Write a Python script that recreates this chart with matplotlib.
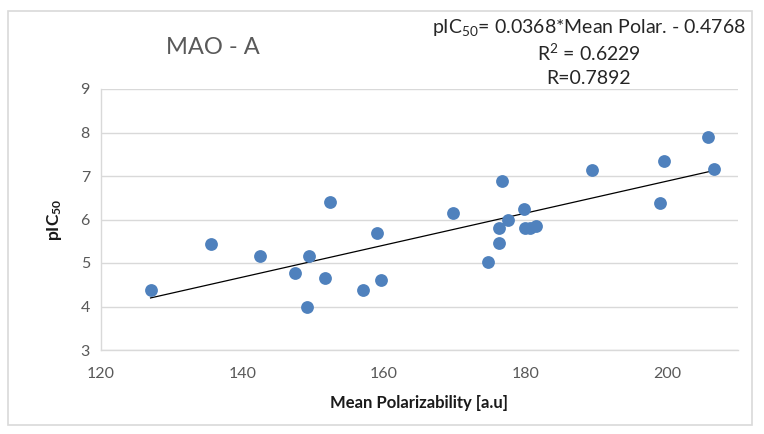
import matplotlib
matplotlib.use("Agg")
import matplotlib.pyplot as plt
import numpy as np
from matplotlib.patches import Rectangle

polarizability = [127.0, 135.5, 142.5, 147.4, 149.4, 149.1, 151.6, 152.3, 157.0, 159.0, 159.6,
                  169.8, 176.6, 174.7, 176.2, 176.2, 177.5, 179.7, 179.9, 180.6, 181.5,
                  189.4, 199.0, 199.6, 205.8, 206.6]
pic50 = [4.38, 5.43, 5.17, 4.78, 5.17, 3.98, 4.66, 6.40, 4.38, 5.70, 4.61,
         6.14, 6.89, 5.03, 5.45, 5.80, 5.99, 6.25, 5.80, 5.80, 5.85,
         7.13, 6.38, 7.34, 7.90, 7.15]
slope = 0.0368
intercept = -0.4768
x_ticks = [120, 140, 160, 180, 200]
y_ticks = [3, 4, 5, 6, 7, 8, 9]

plt.rcParams['font.family'] = ['Lato', 'DejaVu Sans']
plt.rcParams['mathtext.fontset'] = 'custom'
plt.rcParams['mathtext.rm'] = 'Lato'
plt.rcParams['mathtext.bf'] = 'Lato:bold'
plt.rcParams['mathtext.it'] = 'Lato:italic'

W, H = 764, 434
fig = plt.figure(figsize=(W / 100, H / 100), dpi=100)
fig.patch.set_facecolor('white')

# outer chart border
fig.add_artist(Rectangle((8 / W, 1 - 425 / H), (752 - 8) / W, (425 - 11) / H,
                         transform=fig.transFigure, fill=False, edgecolor='#d9d9d9', lw=1.2))

left, right, top, bottom = 101, 738, 89, 350
ax = fig.add_axes([left / W, 1 - bottom / H, (right - left) / W, (bottom - top) / H])

ax.scatter(polarizability, pic50, s=85, color='#4F81BD', zorder=3, linewidths=0)
xl = np.array([min(polarizability), max(polarizability)])
ax.plot(xl, slope * xl + intercept, color='black', lw=0.9, zorder=2)

ax.set_xlim(120, 210)
ax.set_ylim(3, 9)
ax.set_xticks(x_ticks)
ax.set_yticks(y_ticks)
ax.tick_params(length=0, labelsize=11.5, colors='#595959', pad=8)
ax.tick_params(axis='x', pad=12)
ax.grid(axis='y', color='#d9d9d9', lw=1)
ax.set_axisbelow(True)
for s in ['top', 'right']:
    ax.spines[s].set_visible(False)
for s in ['left', 'bottom']:
    ax.spines[s].set_color('#d9d9d9')
    ax.spines[s].set_linewidth(1)

ax.set_xlabel('Mean Polarizability [a.u]', fontsize=12, fontweight='bold', color='#1a1a1a', labelpad=10)
ax.set_ylabel(r'pIC$_{\mathbf{50}}$', fontsize=12.5, fontweight='bold', color='#1a1a1a', labelpad=12)

fig.text(213 / W, 1 - 48 / H, 'MAO - A', fontsize=17, color='#595959', ha='center', va='center')
fig.text(589 / W, 1 - 28 / H, r'pIC$_{50}$= 0.0368*Mean Polar. - 0.4768', fontsize=14,
         color='#262626', ha='center', va='center')
fig.text(589 / W, 1 - 53 / H, r'R$^2$ = 0.6229', fontsize=14, color='#262626', ha='center', va='center')
fig.text(589 / W, 1 - 78 / H, 'R=0.7892', fontsize=14, color='#262626', ha='center', va='center')

fig.savefig('out.png', dpi=100, facecolor='white')
